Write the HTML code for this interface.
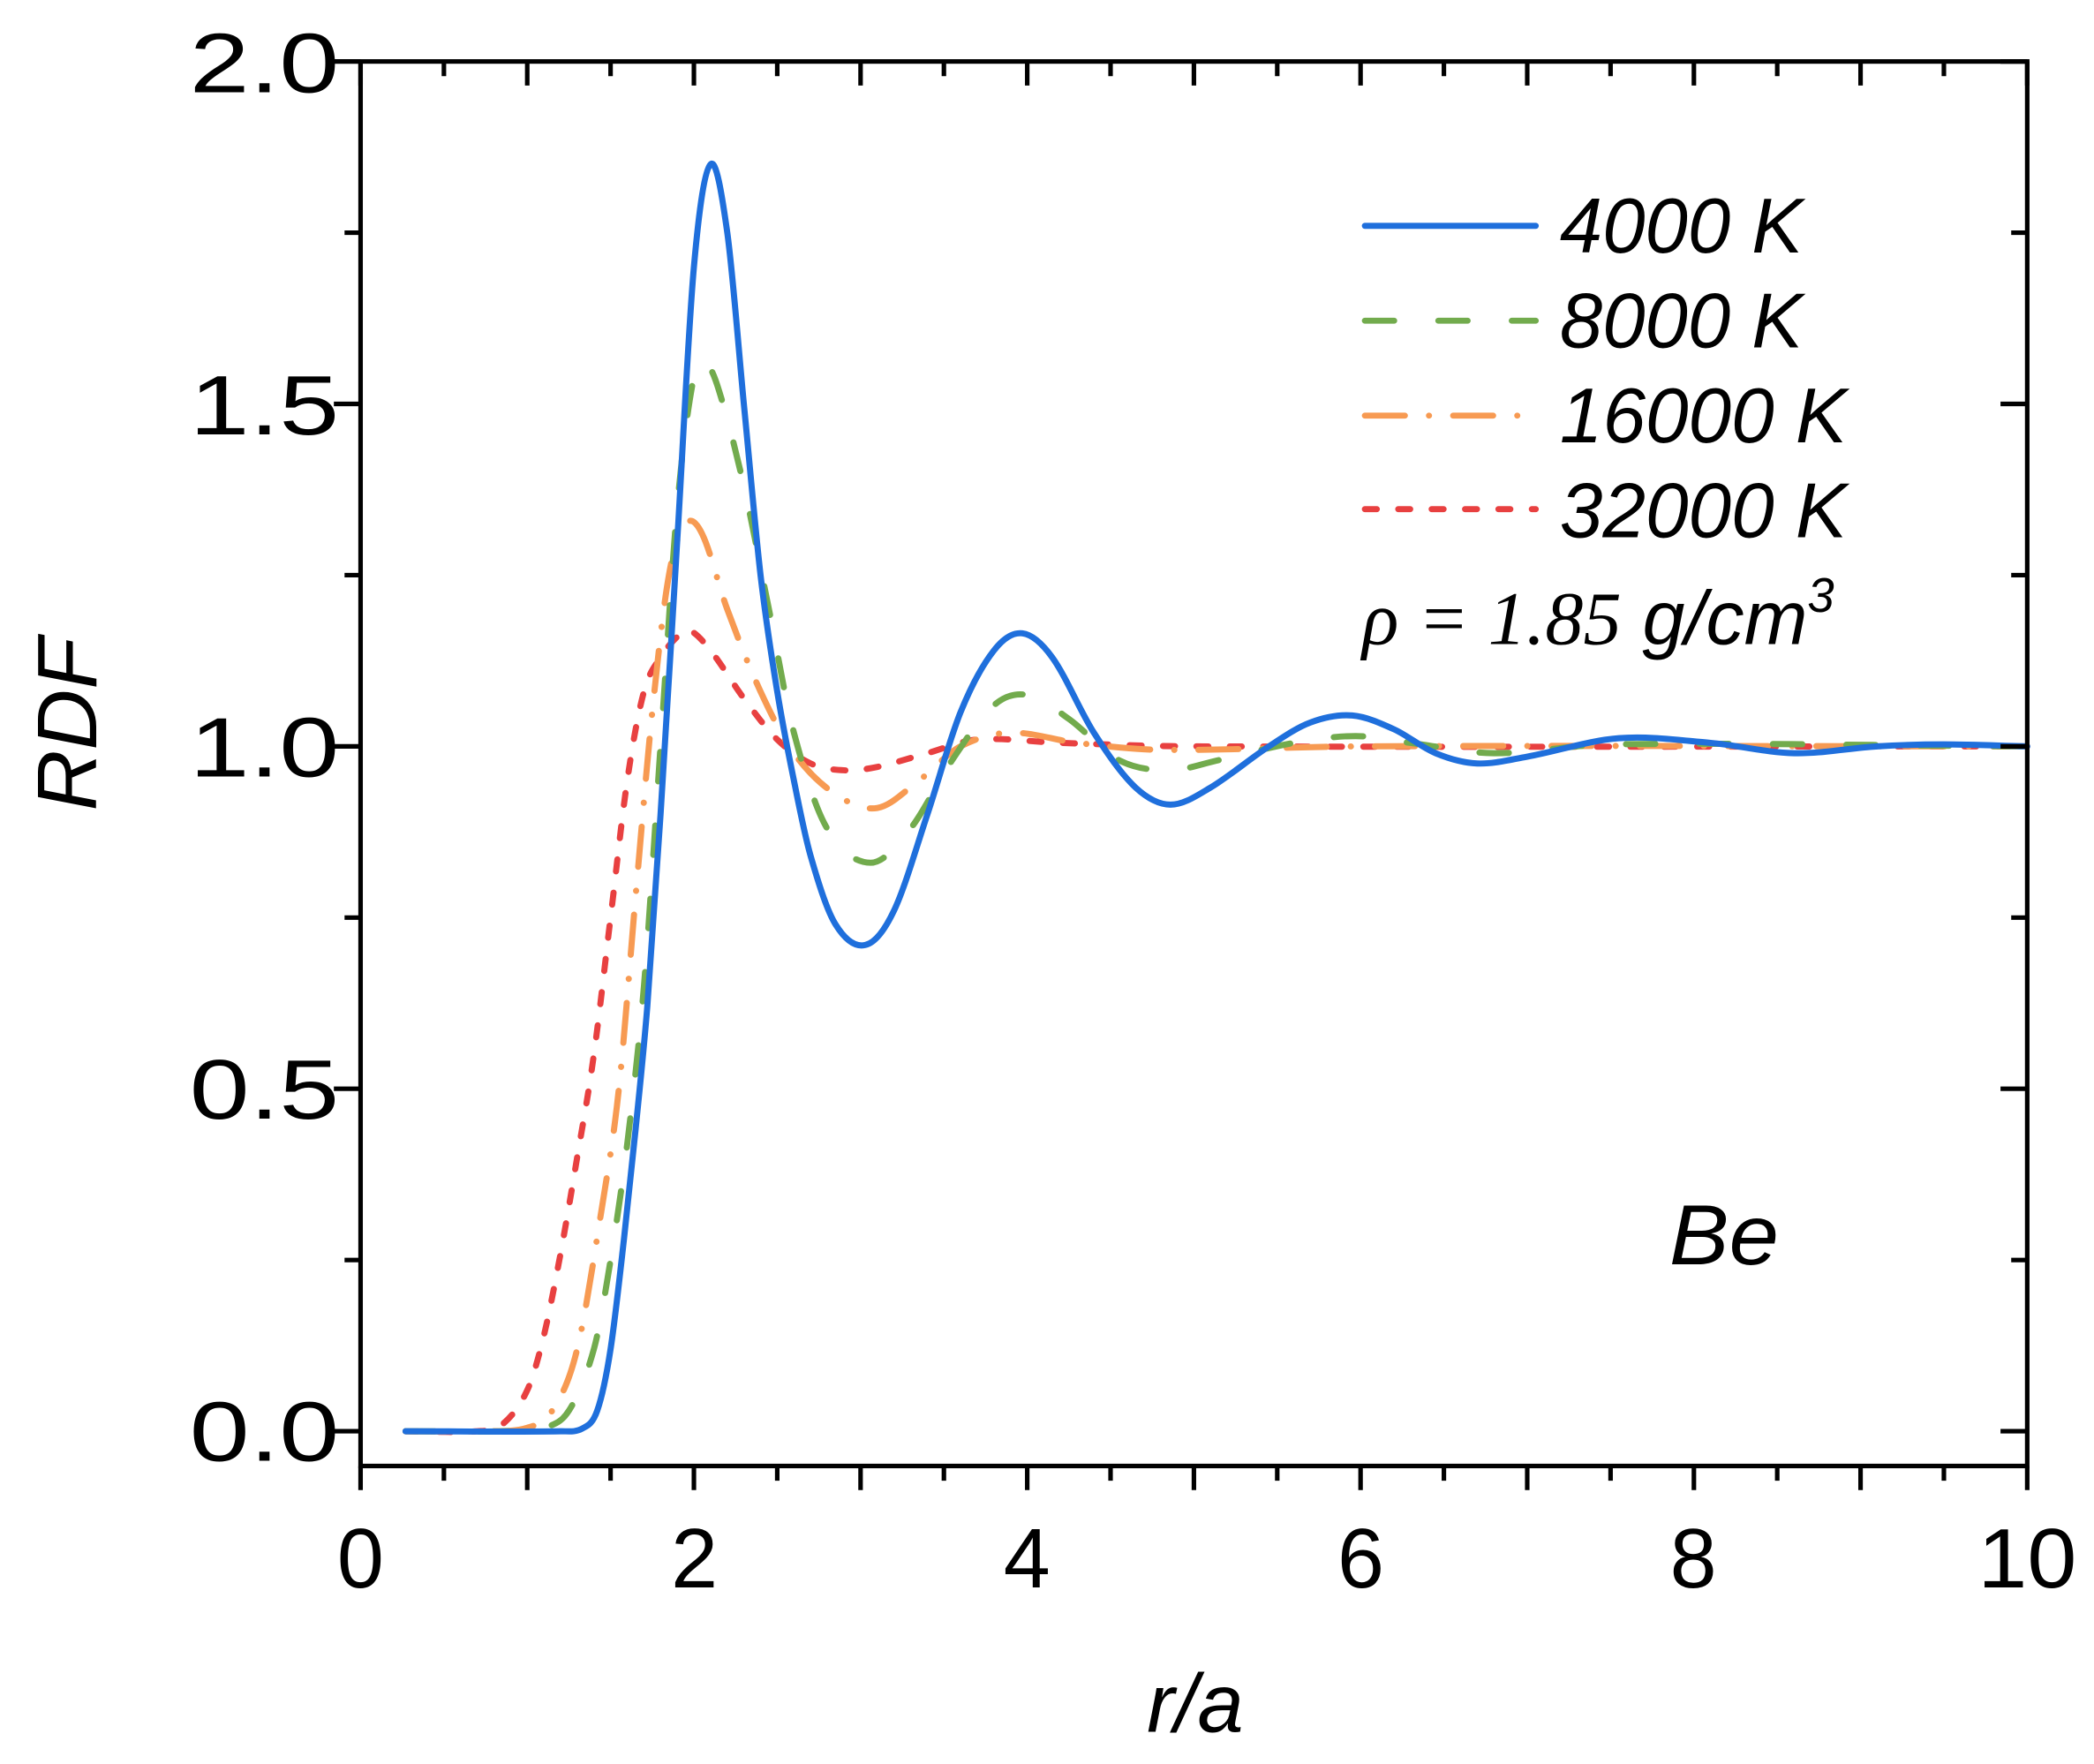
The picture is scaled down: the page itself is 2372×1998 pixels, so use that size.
<!DOCTYPE html>
<html><head><meta charset="utf-8"><style>html,body{margin:0;padding:0;background:#fff}svg{display:block}</style></head>
<body>
<svg id="s" width="2372" height="1998" viewBox="0 0 1568 1320" preserveAspectRatio="none" xmlns="http://www.w3.org/2000/svg">
<rect width="1568" height="1320" fill="#fff"/>
<g id="curves" fill="none" stroke-linecap="round" stroke-linejoin="round"></g>
<g stroke="#000" stroke-width="3.4" fill="none">
<rect x="270" y="46" width="1248" height="1051"/>
<g id="ticks"></g>
</g>
<g font-family="Liberation Sans, sans-serif" font-size="63" fill="#000">
<g text-anchor="end">
<text x="254" y="69" textLength="112" lengthAdjust="spacingAndGlyphs">2.0</text>
<text x="254" y="325" textLength="112" lengthAdjust="spacingAndGlyphs">1.5</text>
<text x="254" y="581" textLength="112" lengthAdjust="spacingAndGlyphs">1.0</text>
<text x="254" y="837" textLength="112" lengthAdjust="spacingAndGlyphs">0.5</text>
<text x="254" y="1093" textLength="112" lengthAdjust="spacingAndGlyphs">0.0</text>
</g>
<g text-anchor="middle" font-size="63">
<text x="270" y="1188">0</text>
<text x="520" y="1188">2</text>
<text x="769" y="1188">4</text>
<text x="1019" y="1188">6</text>
<text x="1268" y="1188">8</text>
<text x="1518" y="1188" textLength="74" lengthAdjust="spacingAndGlyphs">10</text>
</g>
<text x="895" y="1296" text-anchor="middle" font-style="italic" font-size="62">r/a</text>
<text transform="translate(72,542) rotate(-90)" text-anchor="middle" font-style="italic" font-size="63">RDF</text>
<g font-style="italic" font-size="58">
<text x="1168" y="189" textLength="182" lengthAdjust="spacingAndGlyphs">4000 K</text>
<text x="1168" y="260" textLength="182" lengthAdjust="spacingAndGlyphs">8000 K</text>
<text x="1168" y="331" textLength="215" lengthAdjust="spacingAndGlyphs">16000 K</text>
<text x="1168" y="402" textLength="215" lengthAdjust="spacingAndGlyphs">32000 K</text>
</g>
<text x="1250" y="946" font-style="italic" font-size="64" textLength="82" lengthAdjust="spacingAndGlyphs">Be</text>
<text x="1020" y="482" font-size="57"><tspan font-family="Liberation Serif, serif" font-style="italic">ρ = 1.85</tspan><tspan font-style="italic"> g/cm</tspan><tspan font-style="italic" font-size="36" dy="-24">3</tspan></text>
</g>
<g stroke-linecap="round" stroke-width="4.5">
<line x1="1022" y1="169" x2="1150" y2="169" stroke="#1f6fdc"/>
<line x1="1022" y1="240" x2="1150" y2="240" stroke="#72ab4d" stroke-dasharray="22 33"/>
<line x1="1022" y1="311" x2="1150" y2="311" stroke="#f79a52" stroke-dasharray="30 18 0.1 18"/>
<line x1="1022" y1="381" x2="1150" y2="381" stroke="#e84040" stroke-dasharray="9 16"/>
</g>
</svg>
<script>
(function(){
var X=function(x){return 270+124.8*x},Y=function(y){return 1071-512.5*y};
function path(pts){
 var p=pts.map(function(q){return [X(q[0]),Y(q[1])]});
 var d="M"+p[0][0].toFixed(1)+","+p[0][1].toFixed(1);
 for(var i=0;i<p.length-1;i++){
  var p0=p[i-1]||p[i],p1=p[i],p2=p[i+1],p3=p[i+2]||p2;
  var h=p2[0]-p1[0];
  var t1=(p2[1]-p0[1])/((p2[0]-p0[0])||1), t2=(p3[1]-p1[1])/((p3[0]-p1[0])||1);
  if(i==0)t1=(p2[1]-p1[1])/h; if(i==p.length-2)t2=(p2[1]-p1[1])/h;
  var c1=[p1[0]+h/3,p1[1]+t1*h/3], c2=[p2[0]-h/3,p2[1]-t2*h/3];
  d+="C"+c1[0].toFixed(1)+","+c1[1].toFixed(1)+" "+c2[0].toFixed(1)+","+c2[1].toFixed(1)+" "+p2[0].toFixed(1)+","+p2[1].toFixed(1);
 }
 return d;
}
var S=[
 {c:"#e84040",da:"9 16",p:[[0.27,0],[0.7,0],[0.85,0.01],[1.0,0.06],[1.1,0.14],[1.2,0.26],[1.3,0.4],[1.4,0.55],[1.5,0.75],[1.6,0.95],[1.7,1.08],[1.8,1.13],[1.9,1.16],[1.97,1.17],[2.1,1.14],[2.3,1.07],[2.5,1.01],[2.7,0.975],[2.9,0.965],[3.1,0.97],[3.4,0.99],[3.7,1.01],[4.2,1.005],[5,1.0],[10,1.0]]},
 {c:"#f79a52",da:"30 18 0.1 18",p:[[0.27,0],[0.75,0],[1.0,0.005],[1.15,0.03],[1.3,0.12],[1.45,0.33],[1.55,0.5],[1.65,0.78],[1.75,1.05],[1.85,1.25],[1.95,1.325],[2.05,1.31],[2.2,1.2],[2.4,1.08],[2.6,0.99],[2.85,0.93],[3.1,0.91],[3.35,0.95],[3.6,1.0],[3.9,1.02],[4.3,1.005],[4.8,0.995],[6,1.0],[10,1.0]]},
 {c:"#72ab4d",da:"22 33",p:[[0.27,0],[0.9,0],[1.1,0.005],[1.25,0.03],[1.4,0.12],[1.5,0.25],[1.6,0.42],[1.7,0.65],[1.8,1.0],[1.9,1.35],[2.0,1.54],[2.07,1.56],[2.15,1.52],[2.3,1.38],[2.45,1.2],[2.6,1.02],[2.8,0.88],[3.06,0.83],[3.3,0.88],[3.55,0.98],[3.8,1.06],[4.0,1.075],[4.25,1.04],[4.55,0.98],[4.85,0.965],[5.15,0.98],[5.6,1.005],[5.97,1.015],[6.3,1.005],[6.8,0.99],[7.5,1.003],[10,1.0]]},
 {c:"#1f6fdc",da:"",p:[[0.27,0],[1.2,0],[1.33,0.004],[1.42,0.03],[1.5,0.12],[1.58,0.28],[1.65,0.44],[1.72,0.62],[1.8,0.9],[1.9,1.3],[2.0,1.7],[2.1,1.85],[2.2,1.75],[2.3,1.5],[2.4,1.25],[2.5,1.08],[2.6,0.95],[2.7,0.84],[2.85,0.74],[3.03,0.71],[3.2,0.76],[3.4,0.9],[3.6,1.05],[3.8,1.14],[3.97,1.165],[4.15,1.13],[4.4,1.02],[4.65,0.94],[4.86,0.915],[5.1,0.94],[5.45,1.0],[5.7,1.035],[5.95,1.045],[6.2,1.025],[6.45,0.99],[6.7,0.975],[7.0,0.985],[7.55,1.012],[8.1,1.005],[8.6,0.99],[9.1,1.0],[9.5,1.003],[10,1.0]]}
];
var g=document.getElementById("curves"),ns="http://www.w3.org/2000/svg";
S.forEach(function(s){var e=document.createElementNS(ns,"path");e.setAttribute("d",path(s.p));e.setAttribute("stroke",s.c);e.setAttribute("stroke-width",4.6);if(s.da)e.setAttribute("stroke-dasharray",s.da);g.appendChild(e);});
var t="";
for(var i=0;i<=20;i++){var x=270+62.4*i,L=(i%2==0)?18:11;
 t+="M"+x+",1097v"+L+"M"+x+",46v"+L;}
for(var j=0;j<=8;j++){var y=1071-128.125*j,L2=(j%2==0)?20:12;
 t+="M270,"+y+"h-"+L2+"M1518,"+y+"h-"+L2;}
var tk=document.createElementNS(ns,"path");tk.setAttribute("d",t);document.getElementById("ticks").appendChild(tk);
})();
</script>
</body></html>
